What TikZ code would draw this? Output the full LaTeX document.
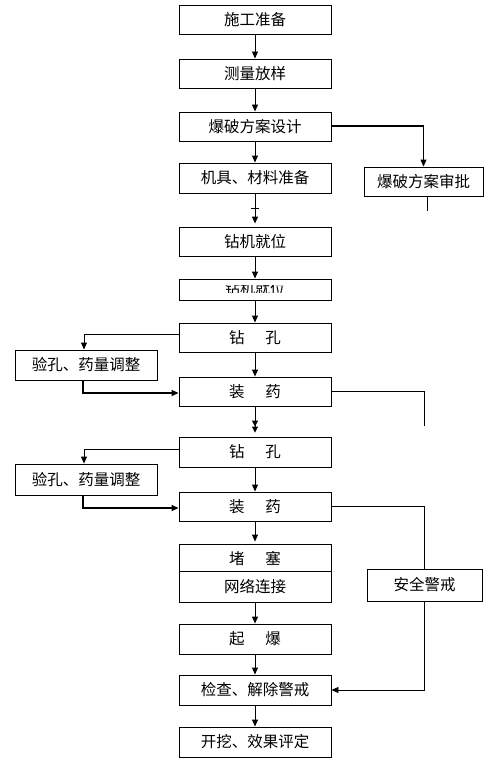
\documentclass[tikz,border=0pt]{standalone}
\usepackage{fontspec}
\setmainfont{Noto Sans CJK SC}
\usetikzlibrary{arrows.meta}
\tikzset{
  box/.style={draw=black, line width=0.9pt, fill=white, rectangle, inner sep=0pt,
    font=\fontsize{15.5}{17}\selectfont},
  mainbox/.style={box, minimum width=152pt, minimum height=29pt},
  conn/.style={draw=black, line width=0.9pt},
  arr/.style={conn, -{Triangle[length=7pt,width=6pt]}},
  darr/.style={conn, -{Triangle[length=6pt,width=6pt]Triangle[length=6pt,width=6pt]}},
  heavy line/.style={line width=2pt}
}
\newcommand{\gapp}{\hspace{21pt}}
\begin{document}
\begin{tikzpicture}[x=1pt,y=-1pt]
\useasboundingbox (0,0) rectangle (499,765);
\fill[white] (0,0) rectangle (499,765);
% main column
\node[mainbox] (b1) at (255,19.5) {施工准备};
\node[mainbox] (b2) at (255,73.5) {测量放样};
\node[mainbox] (b3) at (255,126.5) {爆破方案设计};
\node[mainbox, minimum height=30pt] (b4) at (255,178) {机具、材料准备};
\node[box, minimum width=119pt, minimum height=29pt] (sp) at (423.5,181.5) {爆破方案审批};
\node[mainbox] (b5) at (255,241.5) {钻机就位};
\node[mainbox, minimum height=21pt] (b6) at (255,289.5) {};
\begin{scope}
\clip (181,285) rectangle (329,292.5);
\node[font=\fontsize{15}{17}\selectfont] (b6t) at (255,289) {钻机就位};
\end{scope}
\node[mainbox] (b7) at (255,337.5) {钻\gapp 孔};
\node[box, minimum width=142pt, minimum height=30pt] (y1) at (86,365) {验孔、药量调整};
\node[mainbox] (b8) at (255,391.5) {装\gapp 药};
\node[mainbox, minimum height=30pt] (b9) at (255,452) {钻\gapp 孔};
\node[box, minimum width=142pt, minimum height=31pt] (y2) at (86,479.5) {验孔、药量调整};
\node[mainbox] (b10) at (255,506.5) {装\gapp 药};
\node[mainbox, minimum height=30pt] (b11) at (255,559) {堵\gapp 塞};
\node[mainbox, minimum height=31pt] (b12) at (255,586.5) {网络连接};
\node[box, minimum width=115pt, minimum height=32pt] (aq) at (424.5,585) {安全警戒};
\node[mainbox, minimum height=30pt] (b13) at (255,639) {起\gapp 爆};
\node[mainbox, minimum height=30pt] (b14) at (255,690) {检查、解除警戒};
\node[mainbox, minimum height=30pt] (b15) at (255,742) {开挖、效果评定};
% free ends
\coordinate (e1) at (427,211);
\coordinate (e2) at (424,426);
% connectors
\draw[arr] (b1) -- (b2);
\draw[arr] (b2) -- (b3);
\draw[arr] (b3) -- (b4);
\draw[conn, heavy line] (b3.east) -- (b3.east -| sp.north) coordinate (c1);
\draw[arr] ([yshift=0.9pt]c1) -- (sp.north);
\draw[conn] (sp.south -| e1) -- (e1);
\draw[arr] (b4.south) -- ([yshift=3pt]b5.north);
\draw[conn] ([xshift=-4pt,yshift=-15pt]b4.south) -- ([xshift=4pt,yshift=-15pt]b4.south);
\draw[arr] (b5) -- (b6);
\draw[arr] (b6) -- (b7);
\draw[arr] ([yshift=3.5pt]b7.west) -| ([xshift=-2pt]y1.north);
\draw[arr, heavy line] ([xshift=-3pt]y1.south) |- ([yshift=-1.5pt]b8.west);
\draw[arr] (b7) -- (b8);
\draw[conn] (b8.east) -| (e2);
\draw[darr] (b8.south) -- ([yshift=4pt]b9.north);
\draw[arr] ([yshift=3pt]b9.west) -| ([xshift=-2pt]y2.north);
\draw[arr, heavy line] ([xshift=-3pt]y2.south) |- ([yshift=-1.5pt]b10.west);
\draw[arr] (b9) -- (b10);
\draw[conn] (b10.east) -| (aq.north);
\draw[arr] (b10.south) -- ([yshift=2pt]b11.north);
\draw[arr] (b12) -- (b13);
\draw[arr] (b13) -- (b14);
\draw[arr] (b14) -- (b15);
\draw[arr] (aq.south) |- (b14.east);
\end{tikzpicture}
\end{document}
